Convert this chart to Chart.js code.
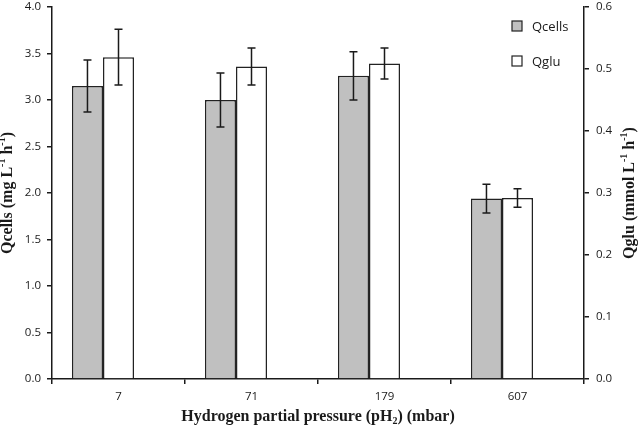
<!DOCTYPE html>
<html><head><meta charset="utf-8">
<script src="https://cdn.jsdelivr.net/npm/chart.js@4/dist/chart.umd.min.js"></script>
<style>html,body{margin:0;padding:0;background:#fff}</style>
</head><body>
<canvas id="c" width="638" height="427" style="width:638px;height:427px"></canvas>
<script>
const categories = ['7', '71', '179', '607'];
const qcells = [3.15, 3.00, 3.26, 1.94];
const qcellsErr = [0.28, 0.29, 0.26, 0.155];
const qglu = [0.519, 0.504, 0.509, 0.292];
const qgluErr = [0.045, 0.03, 0.025, 0.015];
const leftTicks = [0, 0.5, 1.0, 1.5, 2.0, 2.5, 3.0, 3.5, 4.0];
const rightTicks = [0, 0.1, 0.2, 0.3, 0.4, 0.5, 0.6];
const seriesNames = ['Qcells', 'Qglu'];
// rich titles: [text, 0 normal | 1 superscript | -1 subscript]
const leftTitle = [['Qcells (mg L', 0], ['-1', 1], [' h', 0], ['-1', 1], [')', 0]];
const rightTitle = [['Qglu (mmol L', 0], ['-1', 1], [' h', 0], ['-1', 1], [')', 0]];
const xTitle = [['Hydrogen partial pressure (pH', 0], ['2', -1], [') (mbar)', 0]];

const TICK_FONT = { family: '"Open Sans", sans-serif', size: 11.5 };
const TITLE_SIZE = 16;
const TITLE_FAMILY = '"Liberation Serif", "Times New Roman", serif';
const INK = '#1a1a1a';

function drawRich(ctx, segs, cx, cy, rot) {
  const mainFont = 'bold ' + TITLE_SIZE + 'px ' + TITLE_FAMILY;
  const smallFont = 'bold ' + Math.round(TITLE_SIZE * 0.62) + 'px ' + TITLE_FAMILY;
  let total = 0;
  const widths = segs.map(([t, m]) => { ctx.font = m ? smallFont : mainFont; const w = ctx.measureText(t).width; total += w; return w; });
  ctx.save();
  ctx.translate(cx, cy);
  ctx.rotate(rot);
  ctx.fillStyle = INK;
  ctx.textBaseline = 'middle';
  ctx.textAlign = 'left';
  let x = -total / 2;
  segs.forEach(([t, m], i) => {
    ctx.font = m ? smallFont : mainFont;
    const dy = m === 1 ? -TITLE_SIZE * 0.32 : (m === -1 ? TITLE_SIZE * 0.25 : 0);
    ctx.fillText(t, x, dy);
    x += widths[i];
  });
  ctx.restore();
}

const titlesPlugin = {
  id: 'richTitles',
  afterDraw(chart) {
    const ctx = chart.ctx, a = chart.chartArea;
    const cy = (a.top + a.bottom) / 2;
    drawRich(ctx, leftTitle, 8, cy, -Math.PI / 2);
    drawRich(ctx, rightTitle, chart.width - 8, cy, -Math.PI / 2);
    drawRich(ctx, xTitle, (a.left + a.right) / 2, chart.height - 10, 0);
  }
};

const errorPlugin = {
  id: 'errorBars',
  afterDatasetsDraw(chart) {
    const ctx = chart.ctx;
    chart.data.datasets.forEach((ds, i) => {
      if (!ds.errors) return;
      const meta = chart.getDatasetMeta(i);
      const ys = chart.scales[ds.yAxisID];
      meta.data.forEach((el, j) => {
        const v = ds.data[j], e = ds.errors[j];
        if (v == null) return;
        const yt = ys.getPixelForValue(v + e), yb = ys.getPixelForValue(v - e);
        ctx.save();
        ctx.strokeStyle = INK;
        ctx.lineWidth = 1.5;
        ctx.beginPath();
        ctx.moveTo(el.x, yt); ctx.lineTo(el.x, yb);
        ctx.moveTo(el.x - 4, yt); ctx.lineTo(el.x + 4, yt);
        ctx.moveTo(el.x - 4, yb); ctx.lineTo(el.x + 4, yb);
        ctx.stroke();
        ctx.restore();
      });
    });
  }
};

const legendPlugin = {
  id: 'insideLegend',
  afterDraw(chart) {
    const ctx = chart.ctx, a = chart.chartArea;
    const items = chart.data.datasets.filter(d => d.label);
    items.forEach((ds, k) => {
      const bx = a.right - 72, by = a.top + 14 + k * 35;
      ctx.save();
      ctx.fillStyle = ds.backgroundColor;
      ctx.strokeStyle = ds.borderColor;
      ctx.lineWidth = 1.2;
      ctx.fillRect(bx, by, 10, 10);
      ctx.strokeRect(bx, by, 10, 10);
      ctx.fillStyle = INK;
      ctx.font = '13px ' + TICK_FONT.family;
      ctx.textBaseline = 'middle';
      ctx.fillText(ds.label, bx + 20, by + 6);
      ctx.restore();
    });
  }
};

function noVPad(s) { s.paddingTop = 0; s.paddingBottom = 0; }

new Chart(document.getElementById('c'), {
  type: 'bar',
  data: {
    labels: categories,
    datasets: [
      { label: seriesNames[0], data: qcells, errors: qcellsErr, yAxisID: 'y',
        backgroundColor: '#c0c0c0', borderColor: '#222', borderWidth: 1.5 },
      { label: seriesNames[1], data: qglu, errors: qgluErr, yAxisID: 'y2',
        backgroundColor: '#ffffff', borderColor: '#222', borderWidth: 1.5 },
      { label: '', data: categories.map(() => null), yAxisID: 'y' }
    ]
  },
  options: {
    responsive: false,
    animation: false,
    devicePixelRatio: 1,
    categoryPercentage: 0.7,
    barPercentage: 1.0,
    layout: { padding: { top: 7, bottom: 0, left: 0, right: 0 } },
    plugins: { legend: { display: false }, tooltip: { enabled: false } },
    scales: {
      x: {
        offset: true,
        grid: { offset: true, drawOnChartArea: false, tickLength: 5, color: INK, lineWidth: 1.5 },
        border: { color: INK, width: 1.5 },
        ticks: { font: TICK_FONT, color: INK, padding: 6 },
        afterFit: s => { s.height = 48; s.paddingLeft = 0; s.paddingRight = 0; }
      },
      y: {
        position: 'left', min: 0, max: 4,
        afterBuildTicks: s => { s.ticks = leftTicks.map(v => ({ value: v })); },
        grid: { drawOnChartArea: false, tickLength: 5, color: INK, lineWidth: 1.5 },
        border: { color: INK, width: 1.5 },
        ticks: { font: TICK_FONT, color: INK, padding: 6, callback: v => Number(v).toFixed(1) },
        afterFit: s => { s.width = 52; noVPad(s); }
      },
      y2: {
        position: 'right', min: 0, max: 0.6,
        afterBuildTicks: s => { s.ticks = rightTicks.map(v => ({ value: v })); },
        grid: { drawOnChartArea: false, tickLength: 5, color: INK, lineWidth: 1.5 },
        border: { color: INK, width: 1.5 },
        ticks: { font: TICK_FONT, color: INK, padding: 7, callback: v => Number(v).toFixed(1) },
        afterFit: s => { s.width = 54; noVPad(s); }
      }
    }
  },
  plugins: [errorPlugin, legendPlugin, titlesPlugin]
});
</script>
</body></html>
